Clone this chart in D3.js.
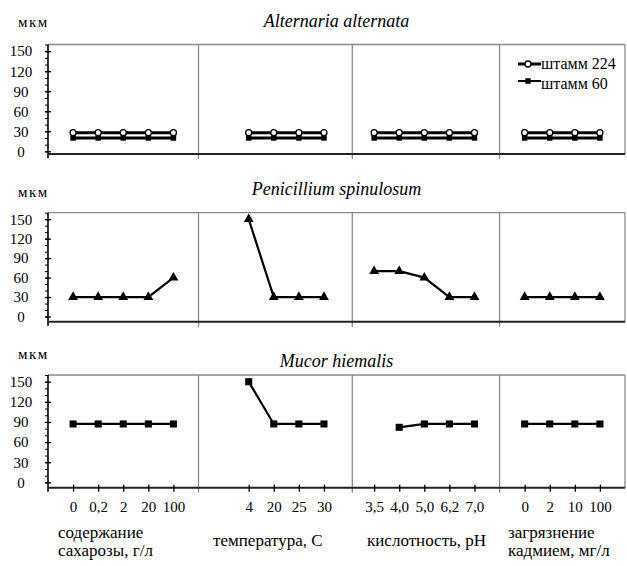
<!DOCTYPE html>
<html>
<head>
<meta charset="utf-8">
<script src="https://cdn.jsdelivr.net/npm/d3@7"></script>
<style>
  body { margin: 0; background: #fff; }
  svg text { fill: #000; font-family: "Liberation Serif", "Liberation Sans", sans-serif; }
  .title { font-style: italic; font-size: 18px; }
  .tick text { font-size: 15px; }
</style>
</head>
<body>
<div id="chart"></div>
<script>
/* Micromycete size vs growth conditions, three species */

// category labels of the four condition groups
const sucroseLabels = ["0", "0,2", "2", "20", "100"];
const tempLabels = ["4", "20", "25", "30"];
const phLabels = ["3,5", "4,0", "5,0", "6,2", "7,0"];
const cadmiumLabels = ["0", "2", "10", "100"];
const groupTitles = [["содержание", "сахарозы, г/л"], ["температура, С"], ["кислотность, pH"], ["загрязнение", "кадмием, мг/л"]];

const yTicks = [0, 30, 60, 90, 120, 150];
const species = ["Alternaria alternata", "Penicillium spinulosum", "Mucor hiemalis"];
const seriesNames = ["штамм 224", "штамм 60"];

// values, µm (order: sucrose | temperature | pH | cadmium)
const alternaria224 = [28, 28, 28, 28, 28, 28, 28, 28, 28, 28, 28, 28, 28, 28, 28, 28, 28, 28];
const alternaria60 = [20, 20, 20, 20, 20, 20, 20, 20, 20, 20, 20, 20, 20, 20, 20, 20, 20, 20];
const penicillium = [30, 30, 30, 30, 60, 150, 30, 30, 30, 70, 70, 60, 30, 30, 30, 30, 30, 30];
const mucor = [87, 87, 87, 87, 87, 150, 87, 87, 87, null, 82, 87, 87, 87, 87, 87, 87, 87];

const width = 627, height = 566;

const svg = d3.select("#chart")
  .append("svg")
  .attr("width", width)
  .attr("height", height);

// every category sits on one slot of a shared axis, groups are spaced out
const groupLabels = [sucroseLabels, tempLabels, phLabels, cadmiumLabels];
const groupStart = [0, 7, 12, 18];
const cats = [];
groupLabels.forEach((labels, g) => labels.forEach((l, i) => cats.push({group: g, slot: groupStart[g] + i, label: l})));
const separators = [5, 11.13, 17];

const x = d3.scaleLinear().domain([-1, 22]).range([48, 625]);

const panels = [
  {top: 44.5, axis: 154, ymin: -4, series: [{values: alternaria224, marker: "circle"}, {values: alternaria60, marker: "filled"}], labelY: 27, titleY: 27},
  {top: 212.7, axis: 321.7, ymin: -8, series: [{values: penicillium, marker: "triangle"}], labelY: 197, titleY: 195},
  {top: 375, axis: 487.7, ymin: -8, series: [{values: mucor, marker: "square"}], labelY: 359, titleY: 367}
];

panels.forEach((p, pi) => {
  const g = svg.append("g");
  const y = d3.scaleLinear().domain([p.ymin, 160]).range([p.axis, p.top]);

  // frame: top and right border, group separators
  g.append("line").attr("x1", x(-1)).attr("x2", x(22)).attr("y1", p.top).attr("y2", p.top)
    .attr("stroke", "#8a8a8a").attr("stroke-width", 1.3);
  g.append("line").attr("x1", x(22)).attr("x2", x(22)).attr("y1", p.top).attr("y2", p.axis)
    .attr("stroke", "#8a8a8a").attr("stroke-width", 1.3);
  g.selectAll(".sep").data(separators).join("line")
    .attr("x1", d => x(d)).attr("x2", d => x(d))
    .attr("y1", p.top).attr("y2", p.axis + 5)
    .attr("stroke", "#8a8a8a").attr("stroke-width", 1.3);

  // y axis: minor and major ticks
  g.append("g")
    .attr("transform", `translate(${x(-1)},0)`)
    .call(d3.axisLeft(y).tickValues(d3.range(0, 161, 10)).tickSize(3).tickFormat(""))
    .call(a => a.select(".domain").remove());
  g.append("g")
    .attr("transform", `translate(${x(-1)},0)`)
    .call(d3.axisLeft(y).tickValues(yTicks).tickSizeInner(6).tickSizeOuter(0))
    .call(a => a.attr("font-family", null))
    .call(a => a.select(".domain").attr("d", `M0,${p.axis + 4}V${p.top}`).attr("stroke-width", 1.6))
    .call(a => a.selectAll(".tick line").attr("transform", "translate(3,0)").attr("stroke-width", 1.3))
    .call(a => a.selectAll(".tick text").attr("x", 21 - x(-1)).attr("text-anchor", "middle"));

  // x axis
  g.append("line").attr("x1", x(-1)).attr("x2", x(22)).attr("y1", p.axis).attr("y2", p.axis)
    .attr("stroke", "#222").attr("stroke-width", 2);
  if (pi === panels.length - 1) {
    g.append("g")
      .attr("transform", `translate(0,${p.axis - 3})`)
      .call(d3.axisBottom(x).tickValues(cats.map(c => c.slot)).tickSize(7)
        .tickFormat((d, i) => cats[i].label))
      .call(a => a.attr("font-family", null))
      .call(a => a.select(".domain").remove())
      .call(a => a.selectAll(".tick line").attr("stroke-width", 1.3))
      .call(a => a.selectAll(".tick text").attr("y", 17));

    // group titles under the axis
    groupTitles.forEach((lines, gi) => {
      const tx = [58, 213, 367, 508][gi];
      const t = g.append("text")
        .attr("x", tx)
        .attr("y", lines.length > 1 ? 538 : 546)
        .style("font-size", "17px");
      lines.forEach((l, li) => t.append("tspan").attr("x", tx).attr("dy", li ? 18 : 0).text(l));
    });
  }

  g.append("text").attr("x", 18).attr("y", p.labelY)
    .style("font-size", "15px").style("letter-spacing", "1.5px").text("мкм");
  g.append("text").attr("class", "title").attr("x", x(10.5)).attr("y", p.titleY)
    .attr("text-anchor", "middle").text(species[pi]);

  // series: one path per condition group
  const line = d3.line().defined(d => d.v != null).x(d => x(d.slot)).y(d => y(d.v));
  p.series.forEach(s => {
    const pts = cats.map((c, i) => ({...c, v: s.values[i]}));
    const thick = pi === 0 ? 3 : 2.2;
    d3.range(4).forEach(gi => {
      g.append("path")
        .datum(pts.filter(d => d.group === gi))
        .attr("d", line)
        .attr("fill", "none")
        .attr("stroke", "#000")
        .attr("stroke-width", thick);
    });
    const valid = pts.filter(d => d.v != null);
    drawMarkers(g, valid.map(d => [x(d.slot), y(d.v)]), s.marker);
  });
});

function drawMarkers(g, xy, marker) {
  if (marker === "circle") {
    g.selectAll(null).data(xy).join("circle")
      .attr("cx", d => d[0]).attr("cy", d => d[1]).attr("r", 3)
      .attr("fill", "#fff").attr("stroke", "#000").attr("stroke-width", 1.3);
  } else {
    const sym = marker === "triangle" ? d3.symbol(d3.symbolTriangle, 42)
      : marker === "square" ? d3.symbol(d3.symbolSquare, 50)
      : d3.symbol(d3.symbolSquare, 30);
    g.selectAll(null).data(xy).join("path")
      .attr("transform", d => `translate(${d[0]},${d[1]})`)
      .attr("d", sym)
      .attr("fill", "#000");
  }
}

// legend, top panel
const lg = svg.append("g");
const legendRows = [{y: 64, ty: 69, marker: "circle", w: 3}, {y: 81, ty: 89, marker: "filled", w: 2}];
legendRows.forEach((r, i) => {
  lg.append("line").attr("x1", 518).attr("x2", 541).attr("y1", r.y).attr("y2", r.y)
    .attr("stroke", "#000").attr("stroke-width", r.w);
  drawMarkers(lg, [[528, r.y]], r.marker);
  lg.append("text").attr("x", 541).attr("y", r.ty).style("font-size", "16px").text(seriesNames[i]);
});
</script>
</body>
</html>
